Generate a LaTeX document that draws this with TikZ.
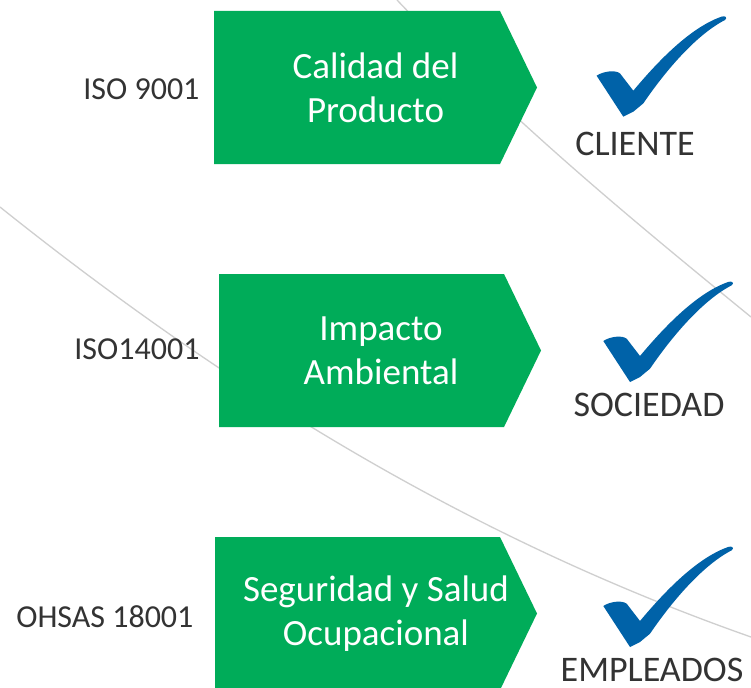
\documentclass[tikz,border=0pt]{standalone}
\usepackage{fontspec}
\setmainfont{Carlito}
\definecolor{boxgreen}{HTML}{00AC59}
\definecolor{tickblue}{HTML}{0062A8}
\definecolor{textgray}{HTML}{333333}
\definecolor{linegray}{HTML}{CFCFCF}
\tikzset{
  boxtext/.style={align=center, text=white, font=\fontsize{37}{44}\selectfont},
  normlabel/.style={anchor=base east, text=textgray, font=\fontsize{32}{36}\selectfont},
  grouplabel/.style={anchor=base, inner sep=1pt, text=textgray, font=\fontsize{36}{40}\selectfont},
  checkmark/.pic={
    \fill[tickblue] (0,0) -- (-26.7,-41) .. controls (-20,-45.5) and (-8,-47) .. (-3.3,-43.3)
      -- (10,-26) .. controls (40,-62) and (70,-90) .. (98,-100)
      .. controls (102,-101.5) and (104.5,-99) .. (101.7,-96.7)
      .. controls (75,-83) and (45,-50) .. (20,-13.3) -- (10,-5) -- cycle;
  }
}
\begin{document}
\begin{tikzpicture}[x=1pt,y=-1pt]
   \useasboundingbox[fill=white] (0,0) rectangle (751,687);
   % background curves
   \draw[linegray, line width=1.3pt] (397,0) .. controls (512,121) and (631,219) .. (751,317);
   \draw[linegray, line width=1.3pt] (0,207) .. controls (240,399) and (481,542) .. (751,637);
   % boxes
   \fill[boxgreen] (214,11) -- (500,11) -- (537,87.5) -- (500,164) -- (214,164) -- cycle;
   \fill[boxgreen] (219,274) -- (504,274) -- (541,350.5) -- (504,427) -- (219,427) -- cycle;
   \fill[boxgreen] (215,537) -- (500,537) -- (537,613.5) -- (500,690) -- (215,690) -- cycle;
   \node[boxtext] (calidad) at (375.5,87.5) {Calidad del\\Producto};
   \node[boxtext] (impacto) at (381,350.5) {Impacto\\Ambiental};
   \node[boxtext] (seguridad) at (376,613.5) {Seguridad y Salud\\Ocupacional};
   % standards
   \node[normlabel] (iso9001) at (203,100) {ISO 9001};
   \node[normlabel] (iso14001) at (203,359) {ISO14001};
   \node[normlabel] (ohsas) at (197,627) {OHSAS 18001};
   % checks
   \pic at (623.3,116.7) {checkmark};
   \pic at (630,382) {checkmark};
   \pic at (630,647) {checkmark};
   \node[grouplabel] (cliente) at (635,156) {CLIENTE};
   \node[grouplabel] (sociedad) at (649,416) {SOCIEDAD};
   \node[grouplabel] (empleados) at (652,681) {EMPLEADOS};
\end{tikzpicture}
\end{document}
